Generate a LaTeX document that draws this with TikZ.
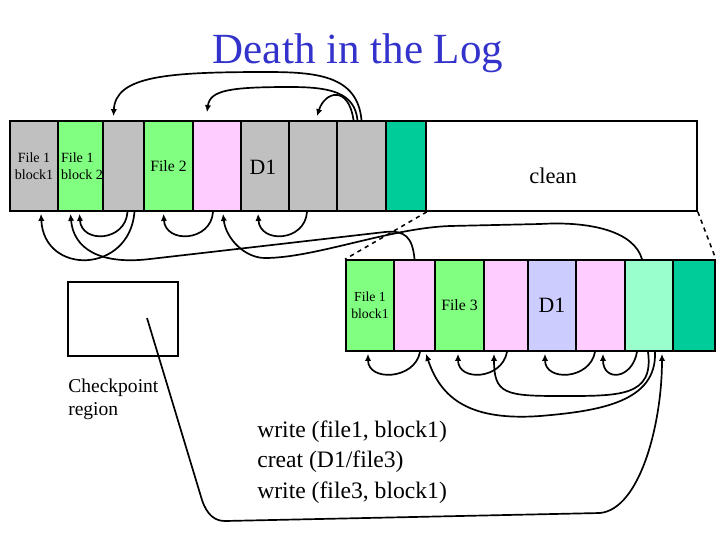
\documentclass[tikz,border=0pt]{standalone}
\usepackage{fontspec}
\setmainfont{Liberation Serif}
\usepackage{tikz}
\usetikzlibrary{calc, arrows.meta}
\definecolor{blockGray}{HTML}{C0C0C0}
\definecolor{dataGreen}{HTML}{80FF80}
\definecolor{inodePink}{HTML}{FFCCFF}
\definecolor{mapTeal}{HTML}{00CC99}
\definecolor{mapMint}{HTML}{99FFCC}
\definecolor{dirLavender}{HTML}{CCCCFF}
\definecolor{titleBlue}{HTML}{3333CC}

\begin{document}
\begin{tikzpicture}[x=0.025cm, y=-0.025cm,
    cell/.style={draw, line width=1.2pt, inner sep=0pt},
    link/.style={line width=1.2pt, -{Latex[length=5pt, width=4.5pt]}},
    tag/.style={align=center, inner sep=0pt, font=\fontsize{10}{11.9}\selectfont}]
    \useasboundingbox (0,0) rectangle (720,540);

    \node[anchor=base, text=titleBlue, font=\fontsize{30.6}{36}\selectfont] (title) at (358,63) {Death in the Log};

    \foreach \l/\r/\col/\n in {10/58/blockGray/t1, 58/103/dataGreen/t2, 103/144/blockGray/t3, 144/193/dataGreen/t4,
        193/241/inodePink/t5, 241/289/blockGray/t6, 289/337/blockGray/t7, 337/386/blockGray/t8,
        386/426/mapTeal/t9, 426/697/white/clean} {
        \pgfmathsetmacro\w{(\r-\l)*0.025}
        \node[cell, fill=\col, minimum width=\w cm, minimum height=2.25cm] (\n) at ({(\l+\r)/2},166) {};
    }
    \foreach \l/\r/\col/\n in {346/394/dataGreen/b1, 394/435/inodePink/b2, 435/484/dataGreen/b3, 484/528/inodePink/b4,
        528/576/dirLavender/b5, 576/625/inodePink/b6, 625/673/mapMint/b7, 673/715/mapTeal/b8} {
        \pgfmathsetmacro\w{(\r-\l)*0.025}
        \node[cell, fill=\col, minimum width=\w cm, minimum height=2.275cm] (\n) at ({(\l+\r)/2},305.5) {};
    }

    \node[tag] (lt1) at (t1) {File 1\\block1};
    \node[tag, align=left] (lt2) at (82,166) {File 1\\block 2};
    \node[font=\fontsize{11.2}{13}\selectfont] (lt4) at (t4) {File 2};
    \node[font=\fontsize{15.5}{18}\selectfont] (lt6) at (263,167) {D1};
    \node[font=\fontsize{16}{19}\selectfont] (lclean) at (553,176) {clean};
    \node[tag, font=\fontsize{9.8}{12}\selectfont] (lb1) at (b1) {File 1\\block1};
    \node[font=\fontsize{11.2}{13}\selectfont] (lb3) at (b3) {File 3};
    \node[font=\fontsize{15.5}{18}\selectfont] (lb5) at (b5) {D1};

    \node[draw, line width=1.2pt, minimum width=2.75cm, minimum height=1.85cm] (ckpt) at (123,319) {};
    \node[anchor=west, align=left, inner sep=0pt, font=\fontsize{13.9}{16.4}\selectfont] (cklabel) at (68,399.5) {Checkpoint\\region};
    \node[anchor=west, align=left, inner sep=0pt, font=\fontsize{16.8}{21.8}\selectfont] (ops) at (257,462)
        {write (file1, block1)\\creat (D1/file3)\\write (file3, block1)};

    \draw[line width=1.1pt, dashed] (t9.south east) -- (b1.north west);
    \draw[line width=1.1pt, dashed] (clean.south east) -- (b8.north east);

    \draw[link] (t8.north) .. controls +(-4,-45) and +(50,0) .. (266,72) .. controls +(-100,0) and +(2,-40) .. ($(t3.north)+(-10,-4)$);
    \draw[link] ($(t8.north)+(-4,0)$) .. controls +(-3,-28) and +(40,0) .. (290,87) .. controls +(-60,0) and +(3,-22) .. ($(t5.north)+(-10,-8)$);
    \draw[link] ($(t8.north)+(-8,0)$) .. controls +(-5,-35) and +(8,-25) .. ($(t7.north)+(4,-4)$);

    \draw[link] ($(t3.south)+(4,0)$) .. controls +(-2,30) and +(2,30) .. ($(t2.south)+(-1,2)$);
    \draw[link] ($(t5.south)+(-4,0)$) .. controls +(-2,30) and +(2,30) .. ($(t4.south)+(-5,2)$);
    \draw[link] ($(t7.south)+(-6,0)$) .. controls +(-2,30) and +(2,30) .. ($(t6.south)+(-7,2)$);
    \draw[link] ($(t3.south)+(11,0)$) .. controls +(-5,62) and +(3,62) .. ($(t1.south)+(7,2)$);
    \draw[link] (b2.north) .. controls +(-2,-22) and +(20,-2) .. (385,232) -- (150,259) .. controls +(-50,6) and +(3,35) .. ($(t2.south)+(-10,2)$);
    \draw[link] ($(b7.north)+(-7,0)$) .. controls +(-8,-28) and +(50,-3) .. (540,224) -- (450,226) .. controls +(-60,2) and +(50,0) .. (265,258) .. controls +(-20,0) and +(3,25) .. ($(t5.south)+(6,2)$);

    \draw[link] ($(b2.south)+(5.5,0)$) .. controls +(-5,28) and +(0,28) .. ($(b1.south)+(-2,2)$);
    \draw[link] ($(b4.south)+(1,0)$) .. controls +(-5,28) and +(0,28) .. ($(b3.south)+(-1.5,2)$);
    \draw[link] ($(b6.south)+(-5.5,0)$) .. controls +(-5,28) and +(0,28) .. ($(b5.south)+(-7,2)$);
    \draw[link] ($(b7.south)+(-12,0)$) .. controls +(-5,28) and +(0,28) .. ($(b6.south)+(2.5,2)$);
    \draw[link] ($(b7.south)+(-1,0)$) .. controls +(6,45) and +(60,0) .. (560,396) .. controls +(-55,0) and +(0,40) .. ($(b4.south)+(-12,2)$);
    \draw[link] ($(b7.south)+(6,0)$) .. controls +(2,50) and +(60,-5) .. (540,416) .. controls +(-70,5) and +(15,45) .. ($(b2.south)+(11.5,2)$);
    \draw[link] ($(ckpt.center)+(24,-1)$) -- (202,500) .. controls +(5,15) and +(-10,0) .. (225,521) -- (600,513) .. controls +(40,-4) and +(0,70) .. ($(b7.south)+(13,2)$);
\end{tikzpicture}
\end{document}
